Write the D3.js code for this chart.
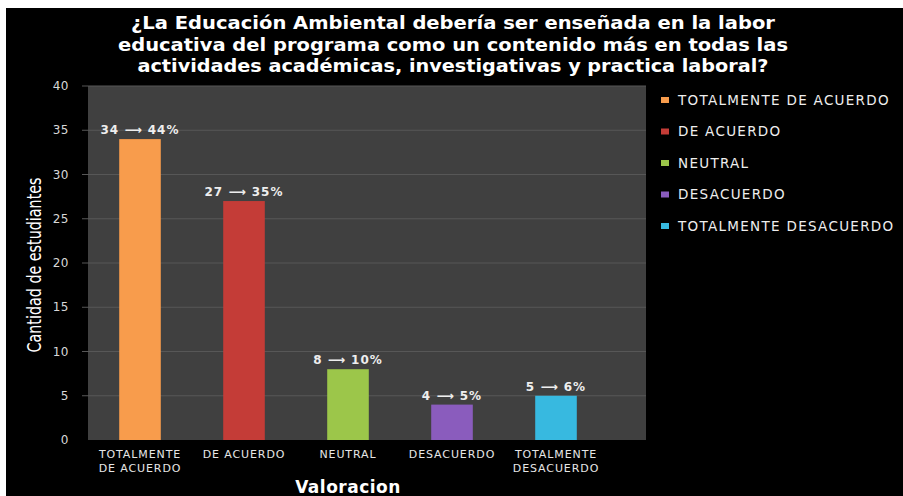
<!DOCTYPE html>
<html>
<head>
<meta charset="utf-8">
<script src="https://cdn.jsdelivr.net/npm/d3@7"></script>
<style>
  html, body { margin: 0; padding: 0; background: #fff; }
  svg { display: block; }
</style>
</head>
<body>
<svg id="chart" width="903" height="496"></svg>
<script>
'use strict';

const CATEGORIES = ['TOTALMENTE DE ACUERDO', 'DE ACUERDO', 'NEUTRAL', 'DESACUERDO', 'TOTALMENTE DESACUERDO'];
const TICK_LINES = [['TOTALMENTE', 'DE ACUERDO'], ['DE ACUERDO'], ['NEUTRAL'], ['DESACUERDO'], ['TOTALMENTE', 'DESACUERDO']];
const COUNTS   = [34, 27, 8, 4, 5];
const PERCENTS = [44, 35, 10, 5, 6];
const Y_TICKS  = [0, 5, 10, 15, 20, 25, 30, 35, 40];
const COLORS   = ['#f89c4c', '#c43c37', '#9cc64a', '#8a5cbd', '#37b9e0'];
const TITLE_LINES = [
  '¿La Educación Ambiental debería  ser enseñada en la labor',
  'educativa del programa como un contenido más en todas las',
  'actividades académicas, investigativas y practica laboral?'
];

const W = 903, H = 496;
const plot = { left: 88, top: 86, right: 646, bottom: 440 };

const svg = d3.select('#chart');

// black canvas with thin white frame top/left
svg.append('rect').attr('x', 6).attr('y', 8).attr('width', W - 6).attr('height', H - 8).attr('fill', '#000');

// plot background
svg.append('rect')
  .attr('x', plot.left).attr('y', plot.top)
  .attr('width', plot.right - plot.left).attr('height', plot.bottom - plot.top)
  .attr('fill', '#404040');

const x = d3.scaleBand().domain(CATEGORIES).range([plot.left, 608]).paddingInner(0.6).paddingOuter(0.3);
const y = d3.scaleLinear().domain([0, 40]).range([plot.bottom, plot.top]);

// gridlines
svg.append('g')
  .selectAll('line').data(Y_TICKS.filter(d => d > 0)).join('line')
  .attr('x1', 82).attr('x2', plot.right)
  .attr('y1', d => y(d)).attr('y2', d => y(d))
  .attr('stroke', '#575757').attr('stroke-width', 1);

// y tick labels
svg.append('g')
  .selectAll('text').data(Y_TICKS).join('text')
  .attr('x', 69).attr('y', d => y(d))
  .attr('dy', '0.35em')
  .attr('text-anchor', 'end')
  .attr('font-family', 'DejaVu Sans, sans-serif')
  .attr('font-size', 12)
  .attr('letter-spacing', 0.5)
  .attr('fill', '#d8d8d8')
  .text(d => d);

// bars
svg.append('g')
  .selectAll('rect').data(CATEGORIES).join('rect')
  .attr('x', d => x(d))
  .attr('y', (d, i) => y(COUNTS[i]))
  .attr('width', x.bandwidth())
  .attr('height', (d, i) => y(0) - y(COUNTS[i]))
  .attr('fill', (d, i) => COLORS[i]);

// value labels
svg.append('g')
  .selectAll('text').data(CATEGORIES).join('text')
  .attr('x', d => x(d) + x.bandwidth() / 2)
  .attr('y', (d, i) => y(COUNTS[i]) - 5)
  .attr('text-anchor', 'middle')
  .attr('font-family', 'DejaVu Sans, sans-serif')
  .attr('font-weight', 'bold')
  .attr('font-size', 12)
  .attr('letter-spacing', 1)
  .attr('fill', '#eee')
  .text((d, i) => `${COUNTS[i]} ⟶ ${PERCENTS[i]}%`);

// x tick labels
const xt = svg.append('g')
  .selectAll('text').data(CATEGORIES).join('text')
  .attr('x', d => x(d) + x.bandwidth() / 2)
  .attr('y', 458)
  .attr('text-anchor', 'middle')
  .attr('font-family', 'DejaVu Sans, sans-serif')
  .attr('font-size', 11)
  .attr('letter-spacing', 0.9)
  .attr('fill', '#e6e6e6');
xt.each(function(d, i) {
  d3.select(this).selectAll('tspan').data(TICK_LINES[i]).join('tspan')
    .attr('x', x(d) + x.bandwidth() / 2)
    .attr('dy', (t, j) => j === 0 ? 0 : 14)
    .text(t => t);
});

// x axis title
svg.append('text')
  .attr('x', (plot.left + 608) / 2).attr('y', 493)
  .attr('text-anchor', 'middle')
  .attr('font-family', 'DejaVu Sans, sans-serif')
  .attr('font-weight', 'bold')
  .attr('font-size', 17)
  .attr('letter-spacing', 0.5)
  .attr('fill', '#fff')
  .text('Valoracion');

// y axis title
svg.append('text')
  .attr('transform', 'translate(41,265) rotate(-90)')
  .attr('text-anchor', 'middle')
  .attr('font-family', 'DejaVu Sans Condensed, DejaVu Sans, sans-serif')
  .attr('font-stretch', 'condensed')
  .attr('font-size', 20)
  .attr('textLength', 175)
  .attr('lengthAdjust', 'spacingAndGlyphs')
  .attr('fill', '#fff')
  .text('Cantidad de estudiantes');

// title
const TITLE_WIDTHS = [644, 670, 631];
svg.append('g')
  .selectAll('text').data(TITLE_LINES).join('text')
  .attr('x', 453).attr('y', (d, i) => 29 + i * 21.5)
  .attr('text-anchor', 'middle')
  .attr('font-family', 'DejaVu Sans, sans-serif')
  .attr('font-weight', 'bold')
  .attr('font-size', 17)
  .attr('textLength', (d, i) => TITLE_WIDTHS[i])
  .attr('lengthAdjust', 'spacingAndGlyphs')
  .attr('fill', '#fff')
  .text(d => d);

// legend
const legend = svg.append('g')
  .selectAll('g').data(CATEGORIES).join('g')
  .attr('transform', (d, i) => `translate(661,${100 + i * 31.5})`);
legend.append('rect')
  .attr('x', 0).attr('y', -3).attr('width', 8).attr('height', 6)
  .attr('fill', (d, i) => COLORS[i]);
legend.append('text')
  .attr('x', 17).attr('dy', '0.36em')
  .attr('font-family', 'DejaVu Sans, sans-serif')
  .attr('font-size', 13.5)
  .attr('letter-spacing', 1.3)
  .attr('fill', '#eee')
  .text(d => d);
</script>
</body>
</html>
